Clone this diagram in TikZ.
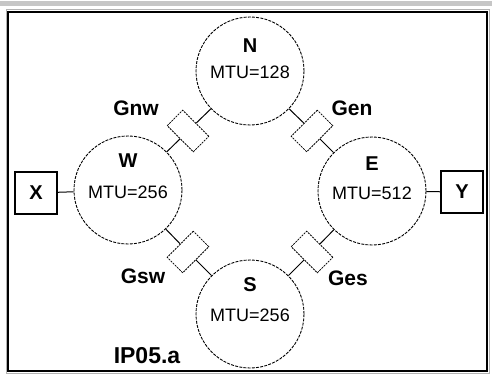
\documentclass[tikz,border=0pt]{standalone}
\usepackage{fontspec}
\setmainfont{Liberation Sans}
\begin{document}
\begin{tikzpicture}[x=1pt,y=-1pt,
  router/.style={circle, draw, minimum size=108pt, inner sep=0pt, line width=0.9pt, dash pattern=on 3pt off 1.2pt},
  gw/.style={draw, rectangle, minimum width=37pt, minimum height=22pt, inner sep=0pt, line width=0.8pt, dash pattern=on 2pt off 1pt},
  term/.style={draw, rectangle, minimum width=42pt, minimum height=42pt, inner sep=0pt, line width=1.2pt, font=\fontsize{20}{20}\selectfont\bfseries},
  rname/.style={font=\fontsize{20}{20}\selectfont\bfseries, inner sep=0pt},
  mtu/.style={font=\fontsize{18}{18}\selectfont, inner sep=0pt},
  glabel/.style={font=\fontsize{21}{21}\selectfont\bfseries, inner sep=0pt},
  link/.style={line width=1pt}]
\useasboundingbox (0,0) rectangle (492,374);
\fill[gray!45] (0,1.5) rectangle (492,6);
\draw[gray!60, line width=1pt] (6,10) rectangle (489,373);
\draw[line width=2pt] (8,12) rectangle (487,371);
% routers
\node[router] (N) at (250,71) {};
\node[router] (W) at (128,190) {};
\node[router] (E) at (372,191) {};
\node[router] (S) at (250,314) {};
\node[rname] (Nn) at (250,46) {N};
\node[mtu] (Nm) at (250,72) {MTU=128};
\node[rname] (Wn) at (128,161) {W};
\node[mtu] (Wm) at (128,192) {MTU=256};
\node[rname] (En) at (372,164) {E};
\node[mtu] (Em) at (372,193) {MTU=512};
\node[rname] (Sn) at (250,285) {S};
\node[mtu] (Sm) at (250,315) {MTU=256};
% gateways
\node[gw, rotate=-45] (Gnw) at (188,131) {};
\node[gw, rotate=45] (Gen) at (312,131) {};
\node[gw, rotate=45] (Gsw) at (188,252) {};
\node[gw, rotate=-45] (Ges) at (312,252) {};
\draw[link] (N) -- (Gnw); \draw[link] (Gnw) -- (W);
\draw[link] (N) -- (Gen); \draw[link] (Gen) -- (E);
\draw[link] (W) -- (Gsw); \draw[link] (Gsw) -- (S);
\draw[link] (E) -- (Ges); \draw[link] (Ges) -- (S);
\node[glabel] (Lnw) at (136,108) {Gnw};
\node[glabel] (Len) at (352,108) {Gen};
\node[glabel] (Lsw) at (143,276) {Gsw};
\node[glabel] (Les) at (348,278) {Ges};
% terminals
\node[term] (X) at (36,193) {X};
\node[term] (Y) at (462,192) {Y};
\draw[link] (X) -- (W);
\draw[link] (E) -- (Y);
\node[font=\fontsize{23}{23}\selectfont\bfseries, inner sep=0pt] (cap) at (147,356) {IP05.a};
\end{tikzpicture}
\end{document}
